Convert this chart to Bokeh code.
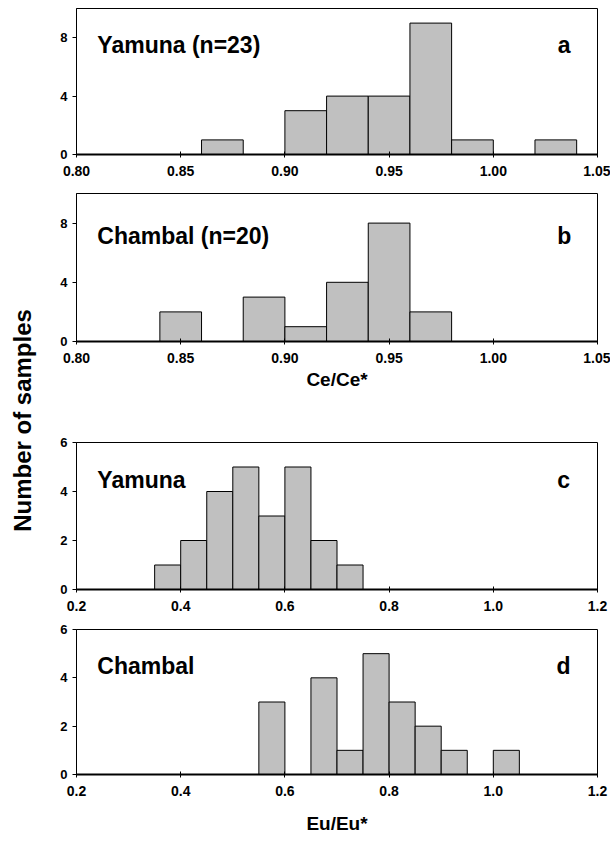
import math
from bokeh.plotting import figure
from bokeh.layouts import row, column
from bokeh.models import Range1d, FixedTicker, NumeralTickFormatter, ColumnDataSource
from bokeh.core.properties import value
from bokeh.embed import file_html
from bokeh.resources import INLINE

# ---------------- data ----------------
ce_bin_width = 0.02
ce_yamuna_left = [0.86, 0.90, 0.92, 0.94, 0.96, 0.98, 1.02]
ce_yamuna_counts = [1, 3, 4, 4, 9, 1, 1]
ce_chambal_left = [0.84, 0.88, 0.90, 0.92, 0.94, 0.96]
ce_chambal_counts = [2, 3, 1, 4, 8, 2]

eu_bin_width = 0.05
eu_yamuna_left = [0.35, 0.40, 0.45, 0.50, 0.55, 0.60, 0.65, 0.70]
eu_yamuna_counts = [1, 2, 4, 5, 3, 5, 2, 1]
eu_chambal_left = [0.55, 0.65, 0.70, 0.75, 0.80, 0.85, 0.90, 1.00]
eu_chambal_counts = [3, 4, 1, 5, 3, 2, 1, 1]

ce_xticks = [0.80, 0.85, 0.90, 0.95, 1.00, 1.05]
ce_yticks = [0, 4, 8]
eu_xticks = [0.2, 0.4, 0.6, 0.8, 1.0, 1.2]
eu_yticks = [0, 2, 4, 6]

FONT = "Liberation Sans"
BAR = "#c0c0c0"


def panel(height, top, bottom, xr, yr, xticks, yticks, fmt, lefts, counts, width_bin,
          name, name_xy, letter, letter_xy, xlabel=None, label_standoff=0):
    p = figure(width=570, height=height, output_backend="svg", toolbar_location=None,
               x_range=Range1d(*xr), y_range=Range1d(*yr),
               min_border_left=36, min_border_right=13,
               min_border_top=top, min_border_bottom=bottom)
    p.background_fill_color = "white"
    p.border_fill_color = "white"
    p.outline_line_color = "black"
    p.outline_line_width = 1
    p.xgrid.visible = False
    p.ygrid.visible = False

    rights = [l + width_bin for l in lefts]
    src = ColumnDataSource(dict(left=lefts, right=rights, top=counts, bottom=[0] * len(counts)))
    p.quad(left="left", right="right", top="top", bottom="bottom", source=src,
           fill_color=BAR, line_color="black", line_width=1)

    xa = p.xaxis[0]
    xa.ticker = FixedTicker(ticks=xticks)
    xa.formatter = NumeralTickFormatter(format=fmt)
    xa.minor_tick_line_color = None
    xa.major_tick_in = 3
    xa.major_tick_out = 3
    xa.axis_line_width = 2
    xa.axis_line_color = "black"
    xa.major_tick_line_color = "black"
    xa.major_label_standoff = 8
    xa.major_label_text_font = FONT
    xa.major_label_text_font_style = "bold"
    xa.major_label_text_font_size = "14px"
    xa.major_label_text_color = "black"
    if xlabel:
        xa.axis_label = xlabel
        xa.axis_label_text_font = FONT
        xa.axis_label_text_font_style = "bold"
        xa.axis_label_text_font_size = "19px"
        xa.axis_label_text_color = "black"
        xa.axis_label_standoff = label_standoff

    ya = p.yaxis[0]
    ya.ticker = FixedTicker(ticks=yticks)
    ya.minor_tick_line_color = None
    ya.major_tick_in = 0
    ya.major_tick_out = 4
    ya.axis_line_color = "black"
    ya.major_tick_line_color = "black"
    ya.major_label_standoff = 5
    ya.major_label_text_font = FONT
    ya.major_label_text_font_style = "bold"
    ya.major_label_text_font_size = "13px"
    ya.major_label_text_color = "black"

    p.text(x=[name_xy[0]], y=[name_xy[1]], text=[name], text_font=value(FONT),
           text_font_style="bold", text_font_size="23px", text_align="left",
           text_baseline="middle", text_color="black")
    p.text(x=[letter_xy[0]], y=[letter_xy[1]], text=[letter], text_font=value(FONT),
           text_font_style="bold", text_font_size="23px", text_align="center",
           text_baseline="middle", text_color="black")
    return p


pa = panel(185, 8, 31, (0.80, 1.05), (0, 10), ce_xticks, ce_yticks, "0.00",
           ce_yamuna_left, ce_yamuna_counts, ce_bin_width,
           "Yamuna (n=23)", (0.81, 7.5), "a", (1.034, 7.5))
pb = panel(215, 8, 59, (0.80, 1.05), (0, 10), ce_xticks, ce_yticks, "0.00",
           ce_chambal_left, ce_chambal_counts, ce_bin_width,
           "Chambal (n=20)", (0.81, 7.1), "b", (1.034, 7.1), xlabel="Ce/Ce*", label_standoff=3)
pc = panel(218, 42, 29, (0.2, 1.2), (0, 6), eu_xticks, eu_yticks, "0.0",
           eu_yamuna_left, eu_yamuna_counts, eu_bin_width,
           "Yamuna", (0.24, 4.45), "c", (1.135, 4.45))
pd = panel(223, 11, 67, (0.2, 1.2), (0, 6), eu_xticks, eu_yticks, "0.0",
           eu_chambal_left, eu_chambal_counts, eu_bin_width,
           "Chambal", (0.24, 4.5), "d", (1.135, 4.5), xlabel="Eu/Eu*", label_standoff=14)

# left strip carrying the shared y label
pl = figure(width=40, height=841, output_backend="svg", toolbar_location=None,
            x_range=Range1d(0, 40), y_range=Range1d(0, 841),
            min_border=0, x_axis_location=None, y_axis_location=None)
pl.outline_line_color = None
pl.xgrid.visible = False
pl.ygrid.visible = False
pl.background_fill_color = "white"
pl.border_fill_color = "white"
pl.text(x=[22], y=[841 - 420], text=["Number of samples"], angle=math.pi / 2,
        text_font=value(FONT), text_font_style="bold", text_font_size="24px",
        text_align="center", text_baseline="middle", text_color="black")

layout = row(pl, column(pa, pb, pc, pd, spacing=0), spacing=0)

open("out.html", "w").write(file_html(layout, INLINE))
